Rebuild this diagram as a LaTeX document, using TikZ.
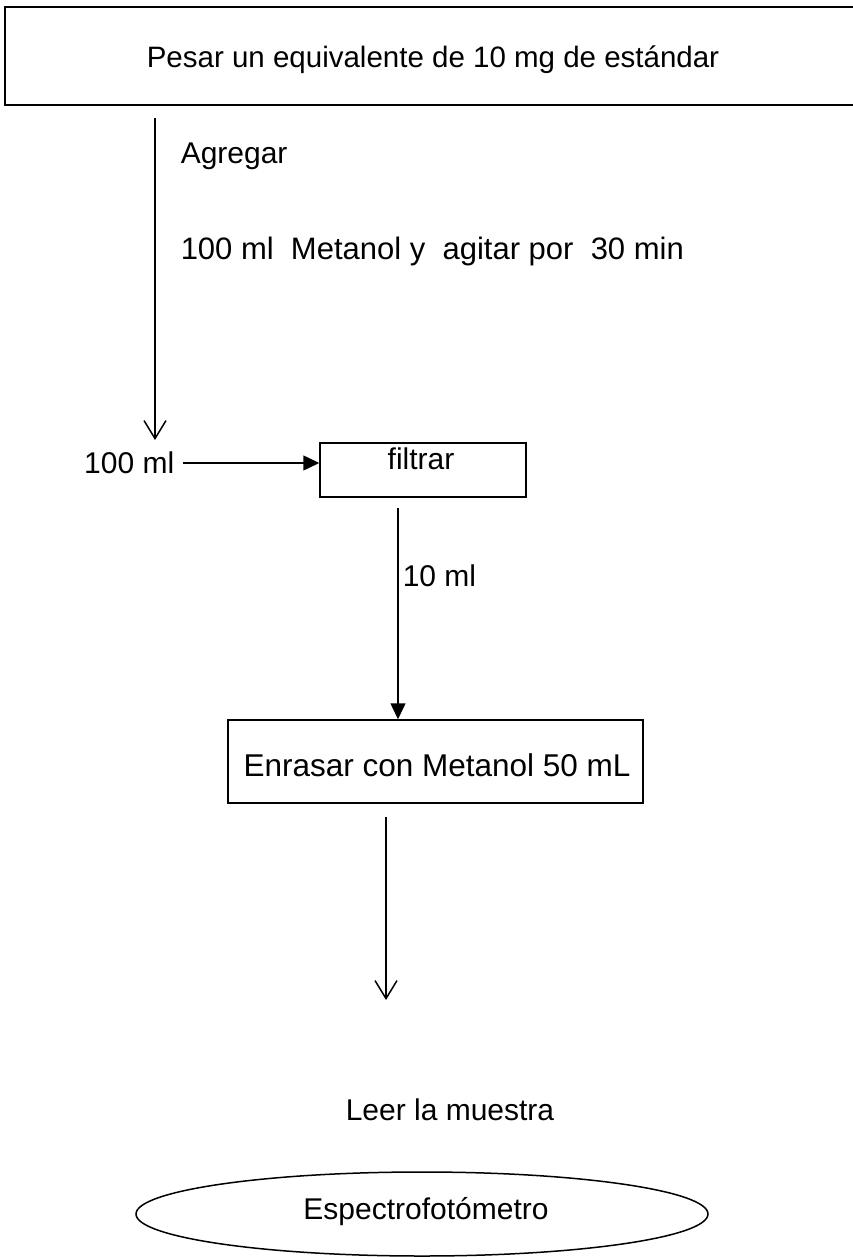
\documentclass[tikz,border=0pt]{standalone}
\usepackage{fontspec}
\setmainfont{Liberation Sans}
\usetikzlibrary{arrows.meta,shapes.geometric}
\begin{document}
\begin{tikzpicture}[x=1pt,y=-1pt,line width=1.5pt,
  font=\fontsize{30}{36}\selectfont,
  box/.style={draw,rectangle,inner sep=0pt},
  openarrow/.style={-{Straight Barb[length=18pt,width=22pt]}},
  fillarrow/.style={-{Triangle[length=16pt,width=15pt]}},
  lbl/.style={inner sep=0pt,anchor=west}]
\useasboundingbox (0,0) rectangle (853,1257);
\clip (0,0) rectangle (853,1257);
\fill[white] (0,0) rectangle (853,1257);

% top box
\node[box,minimum width=853pt,minimum height=98pt] (top) at (431.5,56) {};
\node[inner sep=0pt,font=\fontsize{29.5}{35}\selectfont] (toptxt) at (433,60) {Pesar un equivalente de 10 mg de estándar};

% first arrow
\coordinate (a1s) at (155,118);
\coordinate (a1e) at (155,440);
\draw[openarrow] (a1s) -- (a1e);
\node[lbl] (agregar) at (180,156) {Agregar};
\node[lbl,font=\fontsize{31}{37}\selectfont] (metanol) at (180,251) {100 ml\ \ Metanol y\ \ agitar por\ \ 30 min};

% filtrar
\node[box,minimum width=206pt,minimum height=54pt] (filtrar) at (423,470) {};
\node[inner sep=0pt] (filtrartxt) at (421,459) {filtrar};
\node[inner sep=0pt,anchor=east] (ml100) at (175,463) {100 ml};
\draw[fillarrow] ([xshift=8pt]ml100.east) -- (ml100 -| filtrar.west);

% enrasar
\node[box,minimum width=415pt,minimum height=83pt] (enrasar) at (435.5,761.5) {};
\node[inner sep=0pt,font=\fontsize{31.5}{38}\selectfont] (enrasartxt) at (437,765) {Enrasar con Metanol 50 mL};
\coordinate (a2s) at (398,508);
\draw[fillarrow] (a2s) -- (a2s |- enrasar.north);
\node[lbl] (ml10) at (402,576) {10 ml};

% last arrow
\coordinate (a3s) at (386,817);
\coordinate (a3e) at (386,1000);
\draw[openarrow] (a3s) -- (a3e);
\node[inner sep=0pt] (leer) at (450,1110) {Leer la muestra};

% ellipse
\node[draw,ellipse,inner sep=0pt,minimum width=572pt,minimum height=84pt] (espectro) at (422,1214) {};
\node[inner sep=0pt] (espectrotxt) at (426,1212) {Espectrofotómetro};
\end{tikzpicture}
\end{document}
